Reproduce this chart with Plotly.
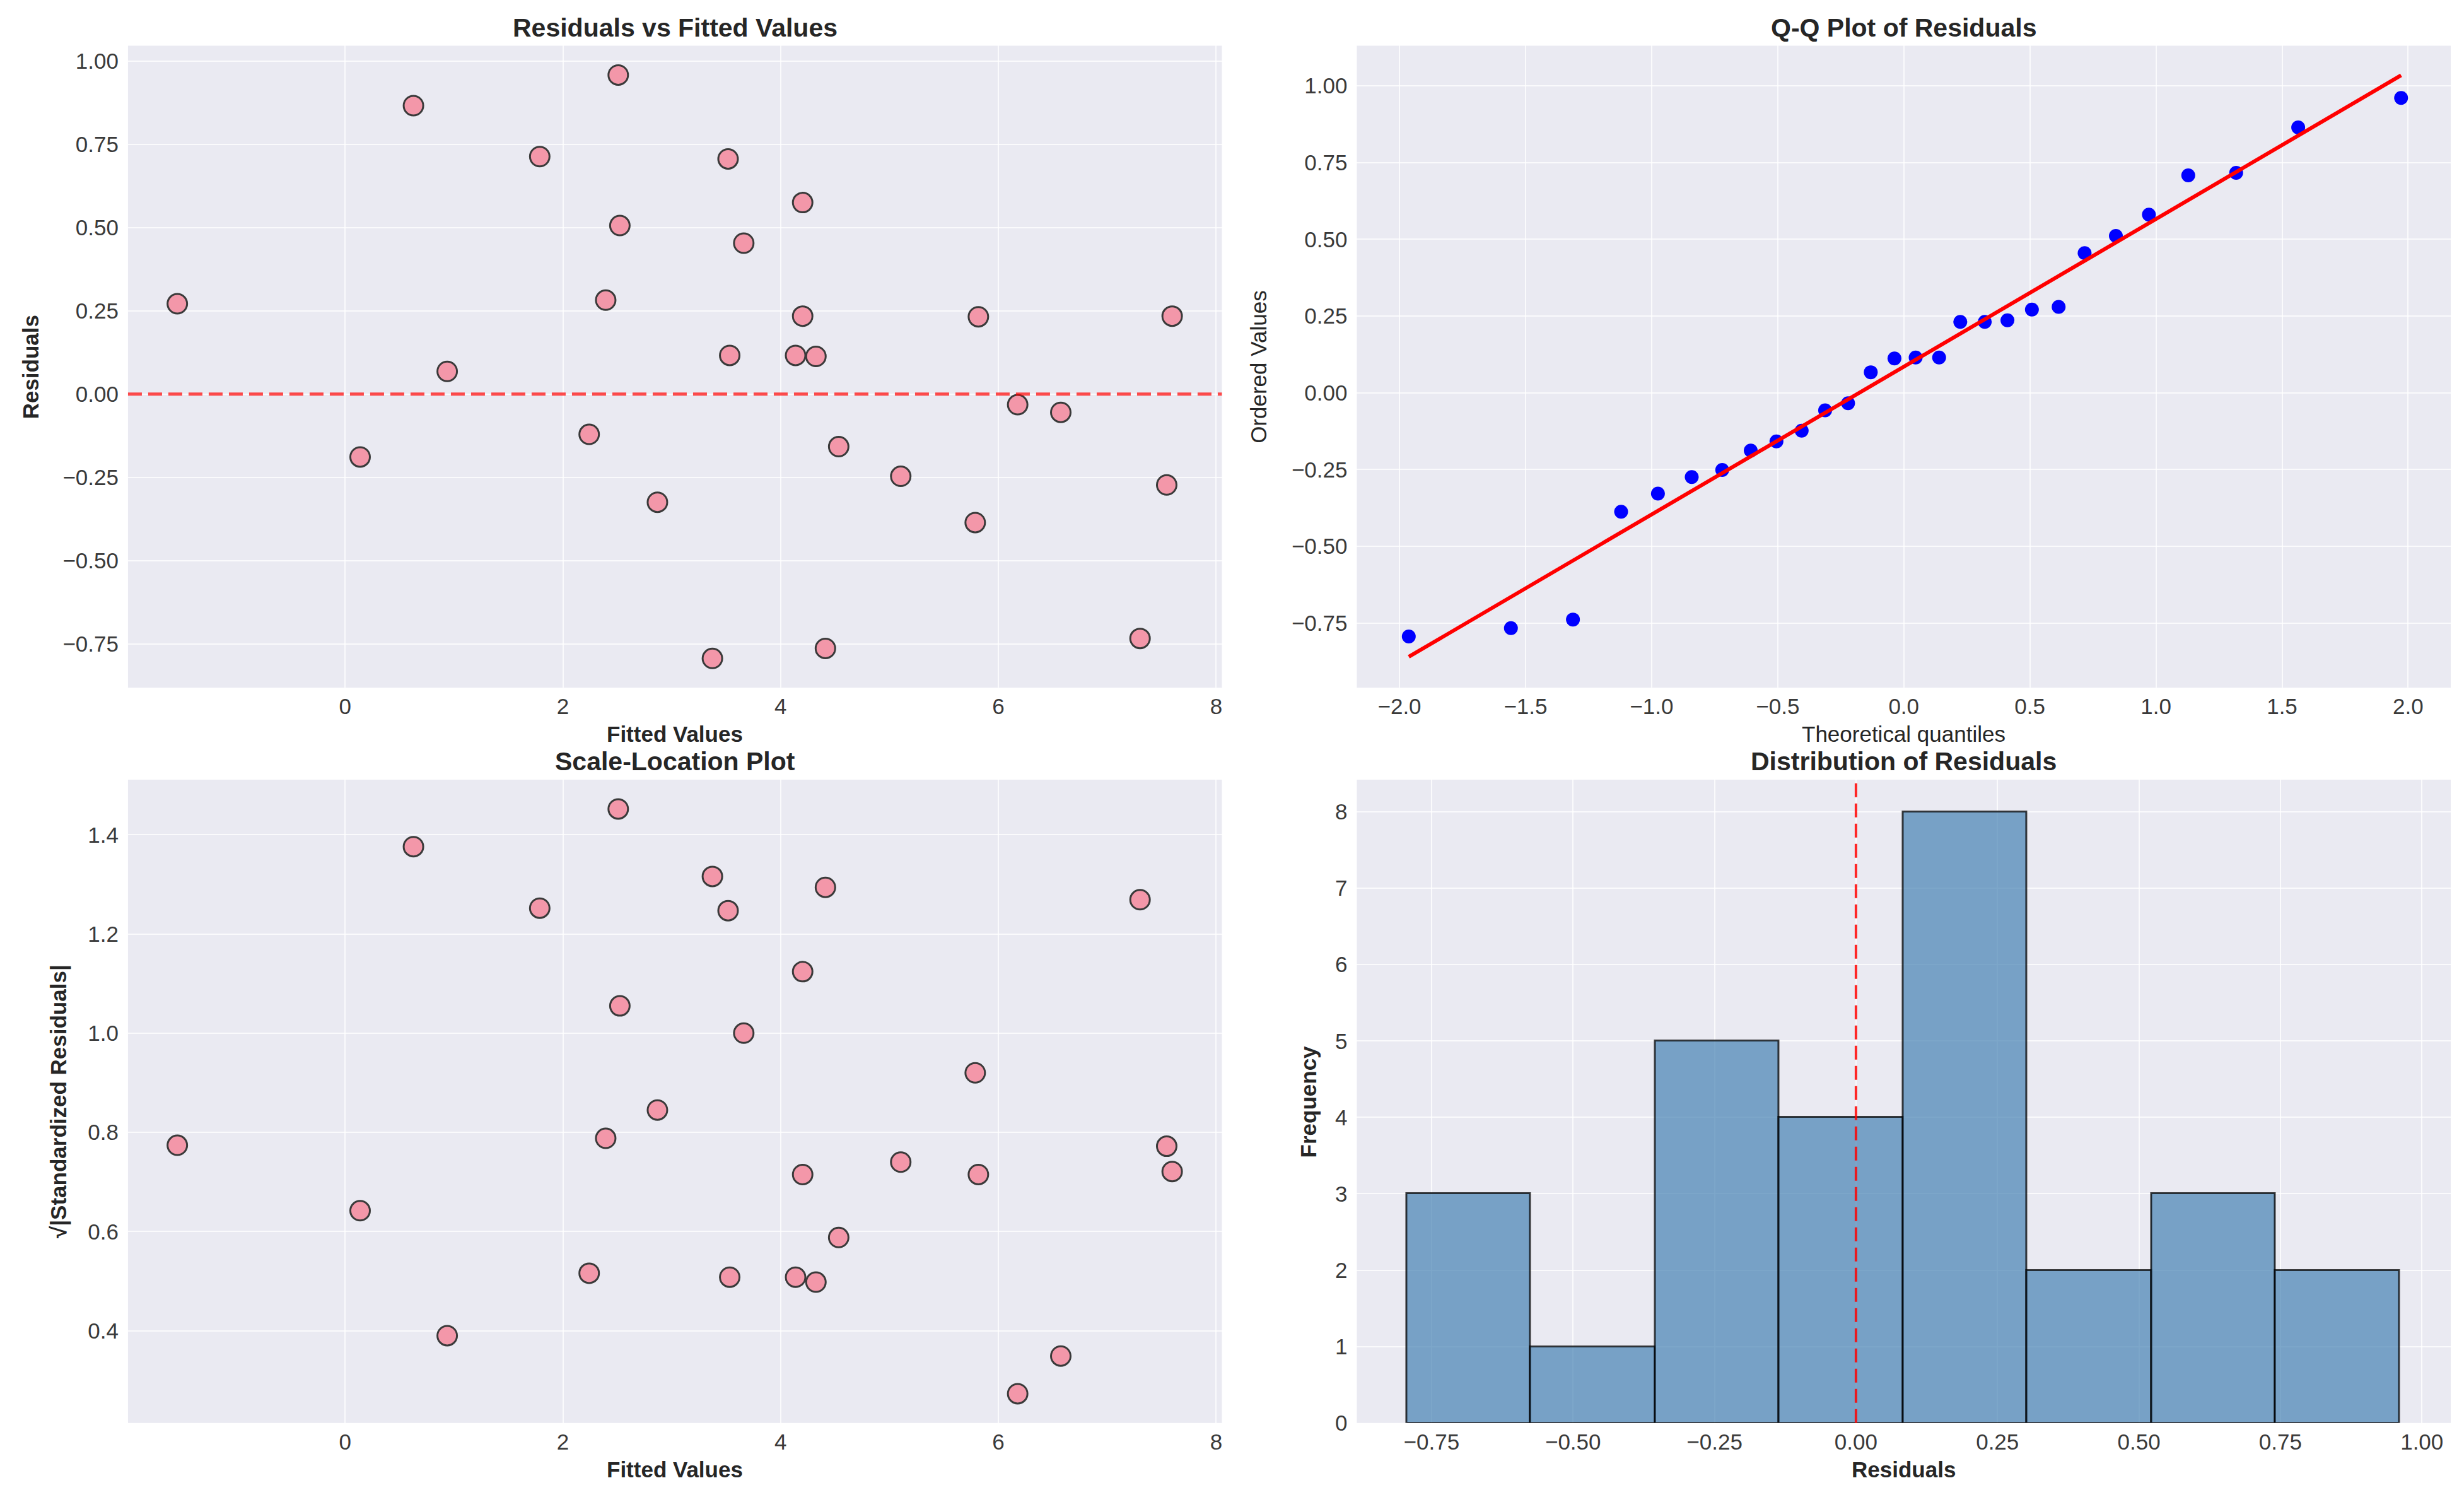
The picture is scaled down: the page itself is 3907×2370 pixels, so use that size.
import plotly.graph_objects as go

fitted = [-1.542, 0.627, 2.508, 1.787, 3.517, 4.202, 2.523, 3.661, 2.393, 4.202,
          5.816, 7.596, 3.532, 4.137, 4.324, 0.937, 6.177, 6.573, 0.137, 2.241,
          4.533, 5.103, 2.868, 7.546, 5.787, 3.373, 4.411, 7.301]
residuals = [0.271, 0.866, 0.958, 0.713, 0.706, 0.575, 0.506, 0.453, 0.282, 0.234,
             0.232, 0.234, 0.116, 0.116, 0.113, 0.068, -0.032, -0.055, -0.189, -0.121,
             -0.158, -0.247, -0.325, -0.273, -0.386, -0.794, -0.764, -0.734]
sqrt_std_resid = [0.774, 1.376, 1.452, 1.252, 1.247, 1.124, 1.055, 1.000, 0.788, 0.715,
                  0.715, 0.721, 0.508, 0.508, 0.498, 0.390, 0.273, 0.349, 0.642, 0.516,
                  0.588, 0.740, 0.845, 0.772, 0.920, 1.316, 1.294, 1.269]

# Q-Q plot
theoretical_q = [-1.963, -1.558, -1.312, -1.121, -0.975, -0.841, -0.720, -0.607, -0.505, -0.405,
                 -0.312, -0.221, -0.131, -0.037, 0.047, 0.140, 0.224, 0.321, 0.411, 0.508,
                 0.614, 0.717, 0.841, 0.972, 1.128, 1.318, 1.564, 1.972]
ordered_vals = [-0.793, -0.766, -0.738, -0.387, -0.328, -0.274, -0.251, -0.188, -0.158, -0.123,
                -0.057, -0.034, 0.067, 0.112, 0.115, 0.115, 0.231, 0.231, 0.236, 0.271,
                0.280, 0.455, 0.511, 0.580, 0.708, 0.716, 0.864, 0.960]
qq_slope = 0.481
qq_intercept = 0.085

# Histogram of residuals (8 bins)
bin_edges = [-0.794, -0.575, -0.355, -0.136, 0.083, 0.302, 0.522, 0.741, 0.960]
bin_counts = [3, 1, 5, 4, 8, 2, 3, 2]

W, H = 3907, 2370
BG = "#EAEAF2"
GRID = "rgba(255,255,255,0.75)"
TICK_FONT = dict(family="Liberation Sans, Arial, sans-serif", size=35, color="#3a3a3a")
TITLE_FONT = dict(family="Liberation Sans, Arial, sans-serif", size=41, color="#262626")
LABEL_FONT = dict(family="Liberation Sans, Arial, sans-serif", size=35, color="#262626")

# plot areas in pixels (left, right, top, bottom)
col_x = [(195, 1930), (2144, 3879)]
row_y = [(65, 1091), (1238, 2266)]


def px_x(v):
    return v / W


def px_y(v):
    return 1 - v / H


fig = go.Figure()

# 1. residuals vs fitted
fig.add_trace(go.Scatter(
    x=fitted, y=residuals, mode="markers",
    marker=dict(size=31, color="#F397A9", line=dict(color="#3a3a3a", width=3)),
    xaxis="x", yaxis="y", showlegend=False))

# 2. Q-Q plot
fig.add_trace(go.Scatter(
    x=theoretical_q, y=ordered_vals, mode="markers",
    marker=dict(size=22, color="#0000FF"),
    xaxis="x2", yaxis="y2", showlegend=False))
qq_ends = [min(theoretical_q), max(theoretical_q)]
fig.add_trace(go.Scatter(
    x=qq_ends, y=[qq_intercept + qq_slope * q for q in qq_ends], mode="lines",
    line=dict(color="#FF0000", width=6),
    xaxis="x2", yaxis="y2", showlegend=False))

# 3. scale-location
fig.add_trace(go.Scatter(
    x=fitted, y=sqrt_std_resid, mode="markers",
    marker=dict(size=31, color="#F397A9", line=dict(color="#3a3a3a", width=3)),
    xaxis="x3", yaxis="y3", showlegend=False))

# 4. histogram
centers = [(a + b) / 2 for a, b in zip(bin_edges[:-1], bin_edges[1:])]
widths = [b - a for a, b in zip(bin_edges[:-1], bin_edges[1:])]
fig.add_trace(go.Bar(
    x=centers, y=bin_counts, width=widths,
    marker=dict(color="rgba(70,130,180,0.7)", line=dict(color="rgba(0,0,0,0.75)", width=3)),
    xaxis="x4", yaxis="y4", showlegend=False))


def axis(domain, anchor, rng, dtick, fmt, standoff, tick0=0):
    return dict(domain=domain, anchor=anchor, range=rng, dtick=dtick, tick0=tick0,
                tickformat=fmt, showgrid=True, gridcolor=GRID, gridwidth=2,
                zeroline=False, showline=False, ticks="", tickfont=TICK_FONT,
                ticklabelstandoff=standoff)


xd = [[px_x(a), px_x(b)] for a, b in col_x]
yd = [[px_y(b), px_y(a)] for a, b in row_y]

fig.update_layout(
    width=W, height=H,
    margin=dict(l=0, r=0, t=0, b=0),
    paper_bgcolor="white", plot_bgcolor=BG,
    bargap=0,
    xaxis=axis(xd[0], "y", [-1.995, 8.053], 2, "d", 6),
    yaxis=axis(yd[0], "x", [-0.882, 1.046], 0.25, ".2f", 14),
    xaxis2=axis(xd[1], "y2", [-2.169, 2.169], 0.5, ".1f", 6),
    yaxis2=axis(yd[0], "x2", [-0.96, 1.13], 0.25, ".2f", 14),
    xaxis3=axis(xd[0], "y3", [-1.995, 8.053], 2, "d", 6),
    yaxis3=axis(yd[1], "x3", [0.214, 1.511], 0.2, ".1f", 14),
    xaxis4=axis(xd[1], "y4", [-0.882, 1.051], 0.25, ".2f", 6),
    yaxis4=axis(yd[1], "x4", [0, 8.42], 1, "d", 14),
)

# reference lines at zero
fig.add_shape(type="line", xref="x domain", yref="y", x0=0, x1=1, y0=0, y1=0,
              line=dict(color="rgba(255,0,0,0.7)", width=5, dash="22px,10px"))
fig.add_shape(type="line", xref="x4", yref="y4 domain", x0=0, x1=0, y0=0, y1=1,
              line=dict(color="rgba(255,0,0,0.85)", width=4, dash="22px,10px"))

titles = ["Residuals vs Fitted Values", "Q-Q Plot of Residuals",
          "Scale-Location Plot", "Distribution of Residuals"]
x_titles = [("Fitted Values", True), ("Theoretical quantiles", False),
            ("Fitted Values", True), ("Residuals", True)]
y_titles = [("Residuals", True, 40), ("Ordered Values", False, 1988),
            ("√|Standardized Residuals|", True, 85), ("Frequency", True, 2067)]

for i in range(4):
    r, c = divmod(i, 2)
    cx = (col_x[c][0] + col_x[c][1]) / 2
    cy = (row_y[r][0] + row_y[r][1]) / 2
    fig.add_annotation(text="<b>%s</b>" % titles[i], xref="paper", yref="paper",
                       x=px_x(cx), y=px_y(row_y[r][0] - 29), showarrow=False,
                       xanchor="center", yanchor="middle", font=TITLE_FONT)
    txt, bold = x_titles[i]
    fig.add_annotation(text="<b>%s</b>" % txt if bold else txt, xref="paper", yref="paper",
                       x=px_x(cx), y=px_y(row_y[r][1] + 74), showarrow=False,
                       xanchor="center", yanchor="middle", font=LABEL_FONT)
    txt, bold, xpos = y_titles[i]
    fig.add_annotation(text="<b>%s</b>" % txt if bold else txt, xref="paper", yref="paper",
                       x=px_x(xpos), y=px_y(cy), showarrow=False, textangle=-90,
                       xanchor="center", yanchor="middle", font=LABEL_FONT)

fig.write_html("out.html")
